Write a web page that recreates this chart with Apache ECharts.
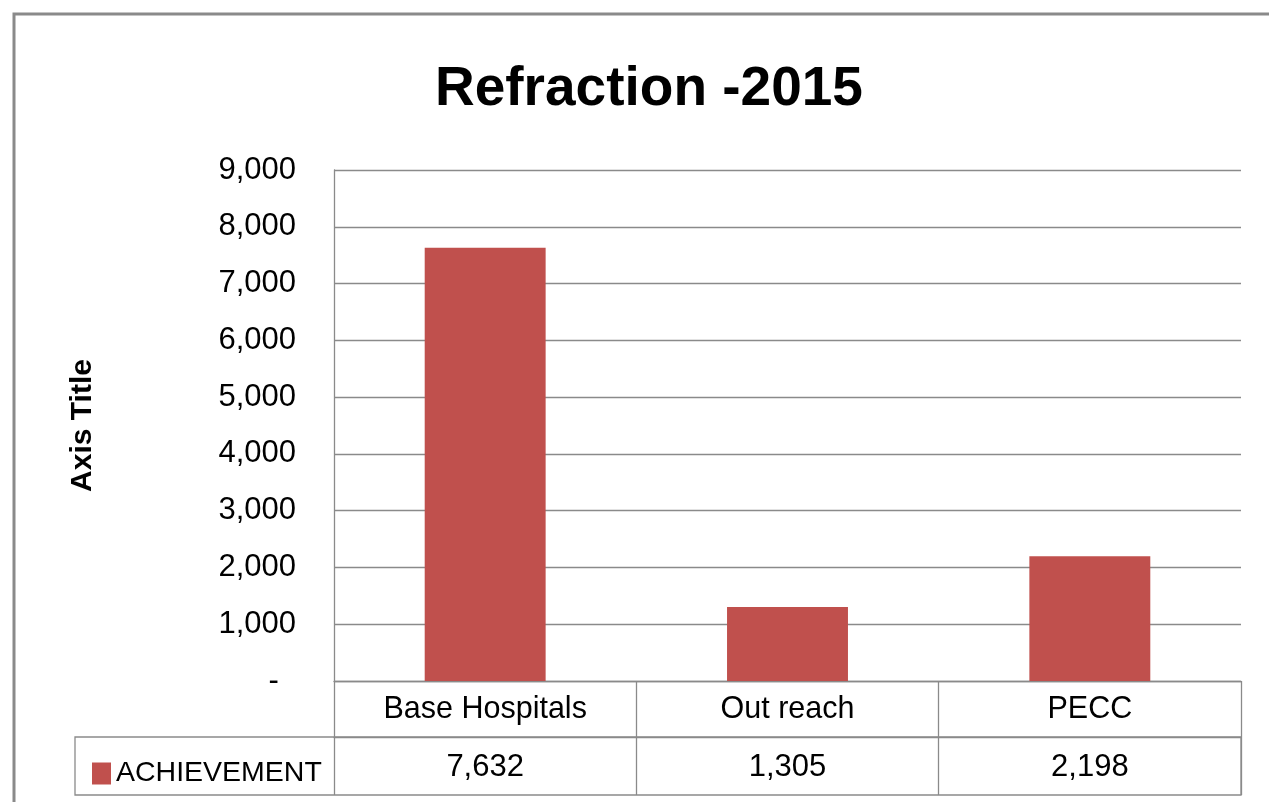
<!DOCTYPE html>
<html>
<head>
<meta charset="utf-8">
<style>
    html, body { margin: 0; padding: 0; background: #fff; }
    #main { width: 1269px; height: 802px; }
</style>
<script src="https://cdn.jsdelivr.net/npm/echarts@6/dist/echarts.min.js"></script>
</head>
<body>
<div id="main"></div>
<script>
// data
var categories = ['Base Hospitals', 'Out reach', 'PECC'];
var achievement = [7632, 1305, 2198];
var yTicks = [0, 1000, 2000, 3000, 4000, 5000, 6000, 7000, 8000, 9000];

var fmt = function (v) {
    return v.toLocaleString('en-US');
};
var valueLabels = achievement.map(fmt);

// layout of plot + data table
var plotLeft = 334, plotRight = 1241, plotTop = 170, plotBottom = 681;
var rowH = 56;
var lineColor = '#8a8a8a';
var font = 'Liberation Sans';

var chartDom = document.getElementById('main');
var myChart = echarts.init(chartDom);

var option = {
    animation: false,
    backgroundColor: '#fff',
    textStyle: { fontFamily: font },
    title: {
        text: 'Refraction -2015',
        left: 430,
        top: 57,
        textStyle: { fontSize: 55, fontWeight: 'bold', color: '#000', fontFamily: font }
    },
    legend: {
        data: ['ACHIEVEMENT'],
        left: 87,
        top: 754,
        icon: 'rect',
        itemWidth: 19,
        itemHeight: 22,
        selectedMode: false,
        textStyle: { fontSize: 28.5, color: '#000', fontFamily: font }
    },
    grid: {
        left: plotLeft,
        right: 1269 - plotRight,
        top: plotTop,
        bottom: 802 - plotBottom
    },
    xAxis: [{
        type: 'category',
        data: categories,
        axisLine: { lineStyle: { color: lineColor, width: 1.3 } },
        axisTick: { show: true, length: rowH, lineStyle: { color: lineColor, width: 1.3 } },
        axisLabel: { margin: 13, fontSize: 30.5, color: '#000', fontFamily: font, interval: 0 }
    }, {
        type: 'category',
        data: valueLabels,
        position: 'bottom',
        offset: rowH,
        axisLine: { show: true, lineStyle: { color: lineColor, width: 1.3 } },
        axisTick: { show: true, length: rowH + 2, lineStyle: { color: lineColor, width: 1.3 } },
        axisLabel: { margin: 15, fontSize: 31, color: '#000', fontFamily: font, interval: 0 }
    }],
    yAxis: {
        type: 'value',
        min: yTicks[0],
        max: yTicks[yTicks.length - 1],
        interval: 1000,
        name: 'Axis Title',
        nameLocation: 'middle',
        nameRotate: 90,
        nameGap: 236,
        nameTextStyle: { fontSize: 30, fontWeight: 'bold', color: '#000', fontFamily: font },
        axisLine: { show: true, lineStyle: { color: lineColor, width: 1.3 } },
        axisTick: { show: false },
        splitLine: { lineStyle: { color: lineColor, width: 1.3 } },
        axisLabel: {
            margin: 38,
            fontSize: 31,
            color: '#000',
            fontFamily: font,
            formatter: function (v) {
                return v === 0 ? '-  ' : fmt(v);
            }
        }
    },
    series: [{
        name: 'ACHIEVEMENT',
        type: 'bar',
        data: achievement,
        barWidth: '40%',
        itemStyle: { color: '#C0504D' }
    }],
    graphic: [{
        // outer chart frame
        type: 'rect',
        shape: { x: 14, y: 14, width: 1300, height: 850 },
        style: { fill: 'none', stroke: '#8a8a8a', lineWidth: 3 },
        silent: true
    }, {
        // legend cell + bottom line of the data table
        type: 'rect',
        shape: { x: 75, y: plotBottom + rowH, width: plotRight - 75, height: rowH + 2 },
        style: { fill: 'none', stroke: lineColor, lineWidth: 1.3 },
        silent: true
    }]
};

option && myChart.setOption(option);
</script>
</body>
</html>
